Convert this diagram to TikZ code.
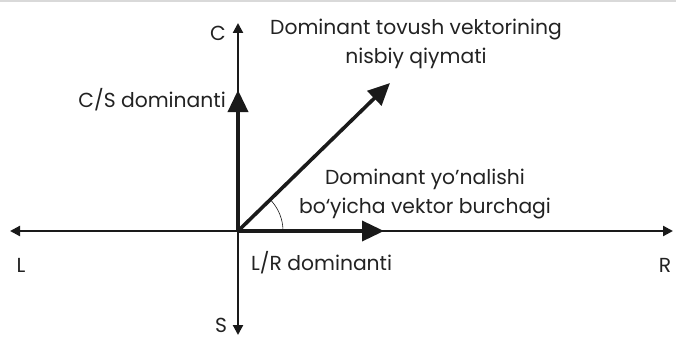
\documentclass[tikz,border=0pt]{standalone}
\usepackage{fontspec}
\setmainfont{Poppins}
\usetikzlibrary{arrows.meta, calc}
\definecolor{inkcol}{HTML}{1A1A1A}
\definecolor{txtcol}{HTML}{222222}

\begin{document}
\begin{tikzpicture}[x=1pt, y=1pt,
    axis/.style={draw=inkcol, line width=2.2pt, -{Triangle[length=10pt, width=10pt]}},
    domvec/.style={draw=inkcol, line width=3.6pt, -{Triangle[length=22pt, width=20pt]}},
    lbl/.style={text=txtcol, font=\fontsize{20.3}{29}\selectfont, inner sep=0pt}]
  \useasboundingbox (0,0) rectangle (676,338);
  \draw[black!15, line width=1.5pt] (0,337) -- (676,337);

  % axes
  \coordinate (O) at (238,107);
  \coordinate (Lend) at (10,107);
  \coordinate (Rend) at (673,107);
  \coordinate (Cend) at (238,315);
  \coordinate (Send) at (238,3);
  \draw[axis] (O) -- (Lend);
  \draw[axis] (O) -- (Rend);
  \draw[axis] (O) -- (Cend);
  \draw[axis] (O) -- (Send);

  % dominant vectors
  \coordinate (cstip) at (238,248);
  \coordinate (lrtip) at (384,107);
  \coordinate (vectip) at (390,255);
  \draw[domvec] (O) -- (cstip);
  \draw[domvec] (O) -- (lrtip);
  \draw[domvec] (O) -- (vectip);
  \draw[inkcol, line width=0.6pt] ($(O)+(45,0)$) arc (0:44:45);

  % labels
  \node[lbl] (cl) at (218,305) {C};
  \node[lbl] (sl) at (221,13) {S};
  \node[lbl] (ll) at (21,73) {L};
  \node[lbl] (rl) at (665,73) {R};
  \node[lbl, anchor=east] (csl) at (226,238) {C/S dominanti};
  \node[lbl, anchor=west] (lrl) at (251,75) {L/R dominanti};
  \node[lbl, align=center] (vecl) at (416,294) {Dominant tovush vektorining\\nisbiy qiymati};
  \node[lbl, align=center] (angl) at (425,144) {Dominant yo'nalishi\\bo`yicha vektor burchagi};
\end{tikzpicture}
\end{document}
